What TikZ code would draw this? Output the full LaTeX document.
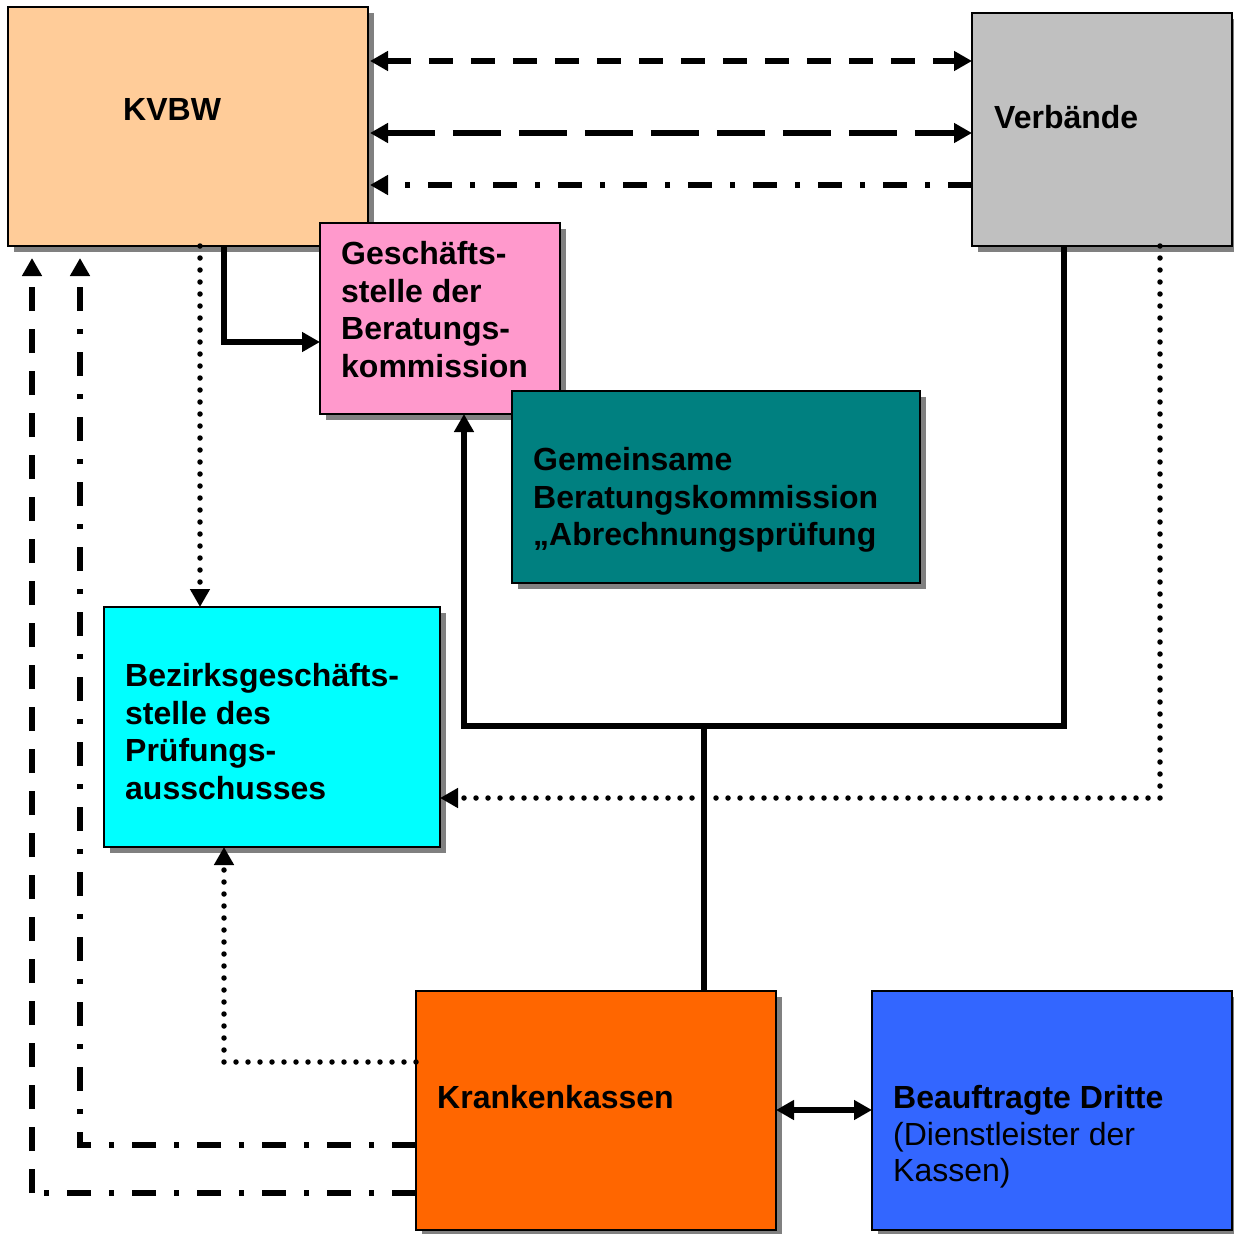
\documentclass[tikz,border=0pt]{standalone}
\usepackage{fontspec}
\setmainfont{Liberation Sans}
\usetikzlibrary{arrows.meta,shadows}
\definecolor{kvbwc}{HTML}{FFCC99}
\definecolor{verbc}{HTML}{C0C0C0}
\definecolor{geschc}{HTML}{FF99CC}
\definecolor{gemc}{HTML}{008080}
\definecolor{bezc}{HTML}{00FFFF}
\definecolor{kkc}{HTML}{FF6600}
\definecolor{beauc}{HTML}{3366FF}
\definecolor{shadowc}{HTML}{808080}
\tikzset{
  box/.style={draw=black, line width=2pt, anchor=north west, inner sep=0pt, outer sep=0pt,
    drop shadow={shadow xshift=6pt, shadow yshift=-6pt, fill=shadowc, opacity=1}},
  lbl/.style={anchor=north west, inner sep=0pt, align=left,
    font=\fontsize{32}{37.5}\selectfont\bfseries},
  endarr/.style={-{Triangle[length=18pt,width=19pt]}},
  dblarr/.style={{Triangle[length=18pt,width=19pt]}-{Triangle[length=18pt,width=19pt]}},
  dashA/.style={line width=6pt, dash pattern=on 24pt off 18pt},
  dashB/.style={line width=6pt, dash pattern=on 48pt off 18pt},
  dashdotA/.style={line width=6pt, dash pattern=on 24pt off 18pt on 5pt off 18pt},
  dotline/.style={line width=5.5pt, line cap=round, dash pattern=on 0pt off 12pt},
  solidline/.style={line width=5.5pt},
}
\begin{document}
\begin{tikzpicture}[x=1pt,y=-1pt]
\useasboundingbox (0,0) rectangle (1234,1234);
\fill[white] (0,0) rectangle (1234,1234);

% boxes
\node[box, fill=kvbwc, minimum width=360pt, minimum height=239pt] (kvbw) at (8,7) {};
\node[box, fill=verbc, minimum width=260pt, minimum height=233pt] (verb) at (972,13) {};
\node[box, fill=geschc, minimum width=240pt, minimum height=191pt] (gesch) at (320,223) {};
\node[box, fill=gemc, minimum width=408pt, minimum height=192pt] (gem) at (512,391) {};
\node[box, fill=bezc, minimum width=336pt, minimum height=240pt] (bez) at (104,607) {};
\node[box, fill=kkc, minimum width=360pt, minimum height=239pt] (kk) at (416,991) {};
\node[box, fill=beauc, minimum width=360pt, minimum height=239pt] (beau) at (872,991) {};

% labels
\node[lbl] (kvbw-t) at (123,98.5) {KVBW};
\node[lbl] (verb-t) at (994,105.5) {Verbände};
\node[lbl] (gesch-t) at (341,241.5) {Geschäfts-\\stelle der\\Beratungs-\\kommission};
\node[lbl] (gem-t) at (533,447.5) {Gemeinsame\\Beratungskommission\\„Abrechnungsprüfung};
\node[lbl] (bez-t) at (125,663.5) {Bezirksgeschäfts-\\stelle des\\Prüfungs-\\ausschusses};
\node[lbl] (kk-t) at (437,1085.5) {Krankenkassen};
\node[lbl, font=\fontsize{32}{36.5}\selectfont] (beau-t) at (893,1085.5) {\textbf{Beauftragte Dritte}\\(Dienstleister der\\Kassen)};

% connectors KVBW <-> Verbaende
\draw[dashA, dblarr] ([xshift=2pt]kvbw.east |- 0,61) -- (verb.west |- 0,61);
\draw[dashB, dblarr] ([xshift=2pt]kvbw.east |- 0,133) -- (verb.west |- 0,133);
\draw[dashdotA, endarr] (verb.west |- 0,185) -- ([xshift=2pt]kvbw.east |- 0,185);

% KVBW -> Geschaeftsstelle
\draw[solidline, endarr] (kvbw.south -| 224,0) -- (224,342) -- (gesch.west |- 0,342);

% KVBW -> Bezirks (dotted)
\draw[dotline, endarr] (kvbw.south -| 200,0) -- (bez.north -| 200,0);

% Verbaende -> Bezirks (dotted)
\draw[dotline, endarr] (verb.south -| 1160,0) -- (1160,798) -- (bez.east |- 0,798);

% Verbaende / Krankenkassen -> Geschaeftsstelle (solid)
\coordinate (j) at (704,726);
\draw[solidline, endarr] (verb.south -| 1064,0) -- (1064,726) -- (464,726) -- (gesch.south -| 464,0);
\draw[solidline] (kk.north -| j) -- (j);

% Krankenkassen -> Bezirks (dotted)
\draw[dotline, endarr] (kk.west |- 0,1062) -- (224,1062) -- (bez.south -| 224,0);

% Krankenkassen <-> Beauftragte
\draw[solidline, dblarr] (kk.east |- 0,1110) -- (beau.west |- 0,1110);

% Krankenkassen -> KVBW (dash-dot)
\draw[dashdotA, endarr] (kk.west |- 0,1145) -- (80,1145) -- ([yshift=-12pt]kvbw.south -| 80,0);

% Krankenkassen -> KVBW (outer)
\coordinate (c1) at (32,1193);
\draw[dashdotA] (kk.west |- 0,1193) -- (c1);
\draw[dashA, endarr] (c1) -- ([yshift=-12pt]kvbw.south -| 32,0);
\end{tikzpicture}
\end{document}
